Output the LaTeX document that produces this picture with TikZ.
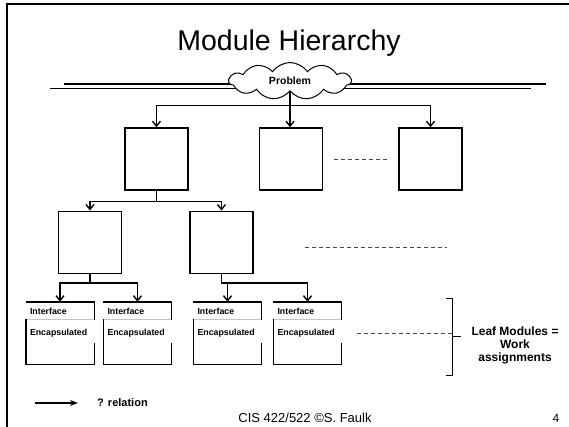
\documentclass[tikz,border=0pt]{standalone}
\usepackage{fontspec}
\setmainfont{Liberation Sans}
\usetikzlibrary{arrows.meta,shapes.symbols,calc}
\definecolor{sepGray}{RGB}{195,195,195}
\definecolor{dashGray}{RGB}{70,70,70}

% leaf module: name, x of centre
\newcommand{\leafmodule}[2]{%
  \node[leaf] (#1) at (#2,333) {};
  \node[leaftext] (#1if) at ($(#1.north west)+(4,10)$) {Interface};
  \node[leaftext] (#1enc) at ($(#1.north west)+(4,31)$) {Encapsulated};
  \draw[sepGray, line width=0.8pt] ($(#1.north west)+(0,18)$) -- ++(68,0);
  \draw[boxline] (#1.north west) -- (#1.north east) -- ++(0,18);
  \draw[boxline] ($(#1.north west)+(0,17)$) -- (#1.south west) -- (#1.south east) -- ++(0,-21);
}

\begin{document}
\begin{tikzpicture}[x=1pt, y=-1pt,
    boxline/.style={line width=1.4pt},
    modbox/.style={draw, line width=1.4pt, minimum width=63pt, minimum height=62pt, inner sep=0pt},
    leaf/.style={rectangle, minimum width=68pt, minimum height=62pt, inner sep=0pt},
    leaftext/.style={anchor=west, inner sep=0pt, font=\bfseries\fontsize{8.8}{10}\selectfont},
    arr/.style={line width=1.4pt, -{Straight Barb[length=5pt,width=8pt]}},
    dashline/.style={dashGray, line width=0.8pt, dash pattern=on 4pt off 3pt}]
  \useasboundingbox (0,0) rectangle (569,427);
  % slide frame
  \draw[line width=2.6pt] (7,427) -- (7,4) -- (569,4);
  \node[anchor=base, font=\fontsize{28.5}{32}\selectfont] (title) at (289,50.5) {Module Hierarchy};

  % problem cloud on the double line
  \draw[line width=1.2pt] (64,84) -- (546,84);
  \draw[line width=1.2pt] (50,88.5) -- (531,88.5);
  \node[cloud, draw, fill=white, line width=1pt, cloud puffs=11, cloud puff arc=110, aspect=3.2,
        minimum width=122pt, minimum height=37pt, inner sep=0pt,
        font=\bfseries\fontsize{10.5}{12}\selectfont] (prob) at (290,81) {Problem};

  % modules
  \node[modbox] (topA) at (156.5,159) {};
  \node[modbox] (topB) at (291,159) {};
  \node[modbox] (topC) at (430.5,159) {};
  \node[modbox] (midD) at (90,242.3) {};
  \node[modbox] (midE) at (221.5,242.3) {};
  \leafmodule{leafA}{60}
  \leafmodule{leafB}{137.5}
  \leafmodule{leafC}{227.5}
  \leafmodule{leafD}{307.5}

  \draw[arr] (prob.south) -- ++(0,14) -| (topA);
  \draw[arr] (prob.south) -- (prob.south |- topB.north);
  \draw[arr] (prob.south) -- ++(0,14) -| (topC);
  \draw[arr] (topA.south) -- ++(0,11) -| (midD);
  \draw[arr] (topA.south) -- ++(0,11) -| (midE);
  \draw[arr] (midD.south) -- ++(0,9) -| (leafA);
  \draw[arr] (midD.south) -- ++(0,9) -| (leafB);
  \draw[arr] (midE.south) -- ++(0,9) -| (leafC);
  \draw[arr] (midE.south) -- ++(0,9) -| (leafD);

  % more of the same
  \draw[dashline, shorten <=11pt, shorten >=11pt] (topB) -- (topC);
  \draw[dashline] (305,247) -- (447,247);

  % leaf bracket
  \coordinate (brace) at (452,336.5);
  \draw[line width=1pt] (446,298) -| (brace) -- ++(9,0) (brace) |- (446,375);
  \draw[dashline, shorten <=15pt] (leafD) -- (leafD -| brace);
  \node[align=center, font=\bfseries\fontsize{12}{12.8}\selectfont] (leaflbl) at (515,345.5) {Leaf Modules =\\Work\\assignments};

  % legend and footer
  \node[anchor=west, inner sep=0pt, font=\bfseries\fontsize{11}{13}\selectfont] (rel) at (97,403) {? relation};
  \draw[line width=1.3pt, -{Stealth[length=8pt,width=6pt]}] ([xshift=-62pt]rel.west) -- ([xshift=-19pt]rel.west);
  \node[font=\fontsize{13}{15}\selectfont] (foot) at (305,418) {CIS 422/522 ©S. Faulk};
  \node[font=\fontsize{12}{14}\selectfont] (pgnum) at (556,418) {4};
\end{tikzpicture}
\end{document}
